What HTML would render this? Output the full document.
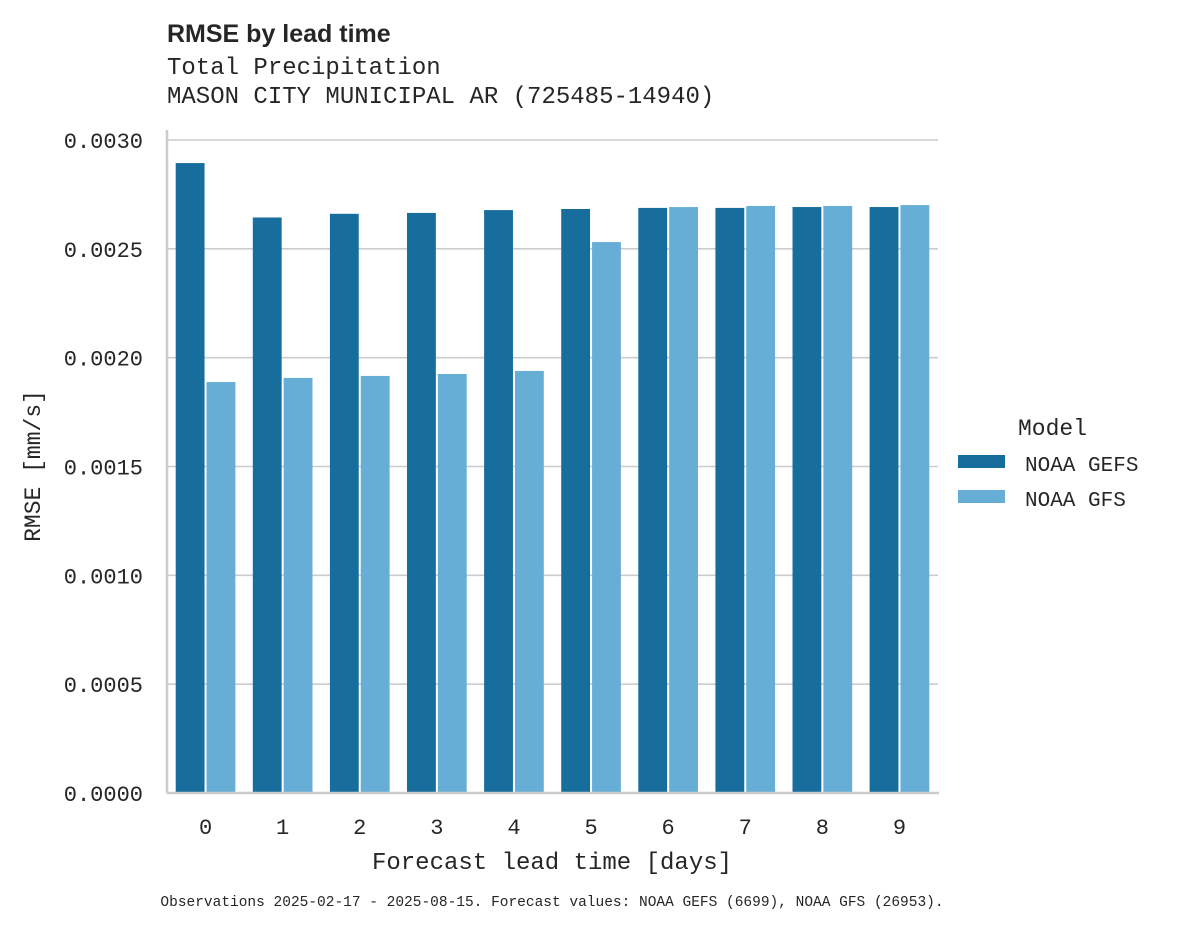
<!DOCTYPE html>
<html><head><meta charset="utf-8"><style>
body{margin:0;background:#fff;}
svg text{font-family:"Liberation Mono","DejaVu Sans Mono",monospace;fill:#262626;}
</style></head><body>
<svg width="1178" height="928" viewBox="0 0 1178 928" xmlns="http://www.w3.org/2000/svg">
<text x="167" y="42" style="font-family:'Liberation Sans','DejaVu Sans',sans-serif;font-weight:bold;font-size:25px">RMSE by lead time</text>
<text x="167" y="74" font-size="24">Total Precipitation</text>
<text x="167" y="103" font-size="24">MASON CITY MUNICIPAL AR (725485-14940)</text>
<g id="grid"></g>
<g id="bars"></g>
<g id="axes"></g>
<text transform="translate(40,466) rotate(-90)" text-anchor="middle" font-size="23">RMSE [mm/s]</text>
<text x="552" y="869" text-anchor="middle" font-size="24">Forecast lead time [days]</text>
<text x="1018" y="435" font-size="23">Model</text>
<rect x="958" y="455" width="47" height="13" fill="#176d9c"/>
<text x="1025" y="471" font-size="21">NOAA GEFS</text>
<rect x="958" y="490" width="47" height="13" fill="#67aed6"/>
<text x="1025" y="506" font-size="21">NOAA GFS</text>
<text x="552" y="906" text-anchor="middle" font-size="14.5">Observations 2025-02-17 - 2025-08-15. Forecast values: NOAA GEFS (6699), NOAA GFS (26953).</text>
</svg>
<script>
const categories=["0","1","2","3","4","5","6","7","8","9"];
const gefs=[0.002894,0.002644,0.002661,0.002665,0.002678,0.002683,0.002688,0.002688,0.002692,0.002692];
const gfs=[0.001888,0.001907,0.001916,0.001925,0.001939,0.002531,0.002692,0.002697,0.002697,0.002701];
const yTicks=[0,0.0005,0.001,0.0015,0.002,0.0025,0.003];
const yTickLabels=["0.0000","0.0005","0.0010","0.0015","0.0020","0.0025","0.0030"];
const NS="http://www.w3.org/2000/svg";
const L=167,R=938,T=140,B=793,yMax=0.003;
const y=v=>B-(v/yMax)*(B-T);
const band=(R-L)/categories.length;
const x=i=>L+band*i;
function mk(tag,attrs,parent){const e=document.createElementNS(NS,tag);for(const k in attrs)e.setAttribute(k,attrs[k]);document.getElementById(parent).appendChild(e);return e;}
yTicks.forEach((t,i)=>{
  const g=mk('line',{x1:L,x2:R,y1:y(t),y2:y(t),stroke:'#cccccc','stroke-width':1.6},'grid');
  
  
  const tx=mk('text',{x:L-24,y:y(t)+8,'text-anchor':'end','font-size':22},'axes');
  tx.textContent=yTickLabels[i];
  
  
});
const bw=band*0.8/2;
categories.forEach((c,i)=>{
  const x0=x(i)+band*0.1;
  const b1=mk('rect',{x:x0+1,y:y(gefs[i]),width:bw-2,height:B-y(gefs[i]),fill:'#176d9c'},'bars');
  
  
  const b2=mk('rect',{x:x0+bw+1,y:y(gfs[i]),width:bw-2,height:B-y(gfs[i]),fill:'#67aed6'},'bars');
  
  
  const tx=mk('text',{x:x(i)+band/2,y:834,'text-anchor':'middle','font-size':22},'axes');
  tx.textContent=c;
  
  
});
const ya=mk('line',{x1:L,x2:L,y1:130,y2:B,stroke:'#cccccc','stroke-width':2.5},'axes');


const xa=mk('line',{x1:L,x2:R+1,y1:B,y2:B,stroke:'#cccccc','stroke-width':2.5},'axes');


</script>
</body></html>
